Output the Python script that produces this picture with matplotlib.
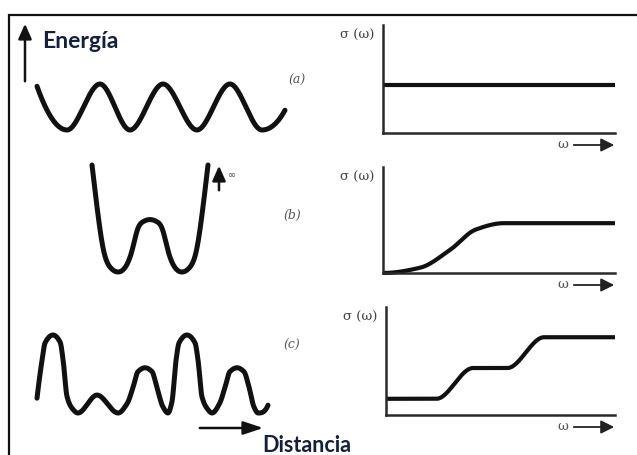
import numpy as np
import matplotlib
matplotlib.use("Agg")
import matplotlib.pyplot as plt
from matplotlib.patches import FancyArrowPatch

W, H = 637, 455

# ---- potential-energy profiles (arbitrary distance 0..1, energy 0..1) ----
# (a) periodic lattice
dist_a = [0.0, 0.121, 0.254, 0.375, 0.508, 0.645, 0.778, 0.907, 1.0]
energy_a = [0.95, 0.0, 1.0, 0.0, 1.0, 0.0, 1.0, 0.0, 0.43]
# (b) double well with infinite walls
dist_b = [0.0, 0.05, 0.10, 0.16, 0.224, 0.29, 0.35, 0.39, 0.44, 0.5,
          0.56, 0.61, 0.65, 0.71, 0.776, 0.84, 0.90, 0.95, 1.0]
energy_b = [1.0, 0.55, 0.20, 0.04, 0.0, 0.05, 0.22, 0.39, 0.47, 0.49,
            0.47, 0.39, 0.22, 0.05, 0.0, 0.04, 0.20, 0.55, 1.0]
# (c) disordered barriers
dist_c = [0.0, 0.022, 0.035, 0.069, 0.10, 0.113, 0.13, 0.152, 0.177,
          0.26, 0.351, 0.39, 0.416, 0.437, 0.468, 0.498, 0.519, 0.545, 0.567,
          0.584, 0.602, 0.615, 0.649, 0.684, 0.697, 0.714, 0.736, 0.758,
          0.79, 0.814, 0.835, 0.866, 0.896, 0.918, 0.939, 0.957, 1.0]
energy_c = [0.19, 0.68, 0.90, 1.0, 0.91, 0.68, 0.21, 0.06, 0.0,
            0.23, 0.0, 0.12, 0.33, 0.53, 0.58, 0.53, 0.33, 0.08, 0.0,
            0.14, 0.68, 0.90, 1.0, 0.90, 0.68, 0.21, 0.06, 0.0,
            0.12, 0.33, 0.53, 0.58, 0.53, 0.33, 0.08, 0.0, 0.10]

# ---- conductivity sigma(omega) (arbitrary units) ----
omega_a = [0.0, 1.0]
sigma_a = [0.44, 0.44]
omega_b = [0.0, 0.16, 0.29, 0.40, 0.52, 1.0]
sigma_b = [0.0, 0.05, 0.22, 0.41, 0.47, 0.47]
omega_c = [0.0, 0.22, 0.38, 0.53, 0.69, 1.0]
sigma_c = [0.15, 0.15, 0.435, 0.435, 0.72, 0.72]

panel_labels = ["(a)", "(b)", "(c)"]
ink = "#111111"
text_blue = "#14213d"


def pchip(x, y, xs):
    """Shape-preserving cubic Hermite curve through the given points."""
    x = np.asarray(x, float)
    y = np.asarray(y, float)
    h = np.diff(x)
    delta = np.diff(y) / h
    n = len(x)
    d = np.zeros(n)
    for k in range(1, n - 1):
        if delta[k - 1] * delta[k] > 0:
            w1 = 2 * h[k] + h[k - 1]
            w2 = h[k] + 2 * h[k - 1]
            d[k] = (w1 + w2) / (w1 / delta[k - 1] + w2 / delta[k])

    def end_slope(h0, h1, d0, d1):
        s = ((2 * h0 + h1) * d0 - h0 * d1) / (h0 + h1)
        if np.sign(s) != np.sign(d0):
            s = 0.0
        elif np.sign(d0) != np.sign(d1) and abs(s) > abs(3 * d0):
            s = 3 * d0
        return s

    if n > 2:
        d[0] = end_slope(h[0], h[1], delta[0], delta[1])
        d[-1] = end_slope(h[-1], h[-2], delta[-1], delta[-2])
    else:
        d[:] = delta[0]
    idx = np.clip(np.searchsorted(x, xs) - 1, 0, n - 2)
    t = (xs - x[idx]) / h[idx]
    h00 = 2 * t**3 - 3 * t**2 + 1
    h10 = t**3 - 2 * t**2 + t
    h01 = -2 * t**3 + 3 * t**2
    h11 = t**3 - t**2
    return (h00 * y[idx] + h10 * h[idx] * d[idx]
            + h01 * y[idx + 1] + h11 * h[idx] * d[idx + 1])


def natural_spline(x, y, xs):
    """Natural cubic spline through the given points."""
    x = np.asarray(x, float)
    y = np.asarray(y, float)
    n = len(x)
    h = np.diff(x)
    A = np.zeros((n, n))
    r = np.zeros(n)
    A[0, 0] = A[-1, -1] = 1.0
    for i in range(1, n - 1):
        A[i, i - 1] = h[i - 1]
        A[i, i] = 2 * (h[i - 1] + h[i])
        A[i, i + 1] = h[i]
        r[i] = 6 * ((y[i + 1] - y[i]) / h[i] - (y[i] - y[i - 1]) / h[i - 1])
    M = np.linalg.solve(A, r)
    idx = np.clip(np.searchsorted(x, xs) - 1, 0, n - 2)
    hi = h[idx]
    a = x[idx + 1] - xs
    b = xs - x[idx]
    return (M[idx] * a**3 / (6 * hi) + M[idx + 1] * b**3 / (6 * hi)
            + (y[idx] / hi - M[idx] * hi / 6) * a
            + (y[idx + 1] / hi - M[idx + 1] * hi / 6) * b)


def axes_px(fig, x0, y0, x1, y1):
    return fig.add_axes([x0 / W, 1 - y1 / H, (x1 - x0) / W, (y1 - y0) / H])


fig = plt.figure(figsize=(W / 100, H / 100), dpi=100)
fig.patch.set_facecolor("white")

# overlay in pixel units for the frame, labels and arrows
ov = fig.add_axes([0, 0, 1, 1])
ov.set_xlim(0, W)
ov.set_ylim(H, 0)
ov.axis("off")
ov.plot([9, 9, W + 5], [H + 5, 15, 15], color="#111111", lw=1.6,
        solid_joinstyle="miter", clip_on=False)

# potential-energy curves
pot_boxes = [(37, 84, 285, 130), (92, 165, 208, 272), (37, 335, 268, 413)]
pot_data = [(dist_a, energy_a, pchip), (dist_b, energy_b, natural_spline),
            (dist_c, energy_c, pchip)]
for (x0, y0, x1, y1), (dx, ey, smooth) in zip(pot_boxes, pot_data):
    ax = axes_px(fig, x0, y0, x1, y1)
    xs = np.linspace(dx[0], dx[-1], 1200)
    ax.plot(xs, smooth(dx, ey, xs), color=ink, lw=3.6,
            solid_capstyle="round", solid_joinstyle="round", clip_on=False)
    ax.set_xlim(0, 1)
    ax.set_ylim(0, 1)
    ax.axis("off")

# conductivity panels
sig_boxes = [(383, 25, 615, 133), (383, 167, 615, 273), (386, 307, 615, 415)]
sig_data = [(omega_a, sigma_a), (omega_b, sigma_b), (omega_c, sigma_c)]
for (x0, y0, x1, y1), (om, sg) in zip(sig_boxes, sig_data):
    ax = axes_px(fig, x0, y0, x1, y1)
    xs = np.linspace(om[0], om[-1], 600)
    ax.plot(xs, pchip(om, sg, xs), color=ink, lw=3.0,
            solid_capstyle="butt", clip_on=False)
    ax.set_xlim(0, 1)
    ax.set_ylim(0, 1)
    for side in ("top", "right"):
        ax.spines[side].set_visible(False)
    for side in ("left", "bottom"):
        ax.spines[side].set_linewidth(1.8)
        ax.spines[side].set_color("#2a2a2a")
    ax.set_xticks([])
    ax.set_yticks([])
    ax.patch.set_alpha(0)
    # axis captions
    ov.text(x0 - 26, y0 + 10, "σ (ω)", fontsize=9.5, family="DejaVu Serif",
            color="#444444", ha="center", va="center")
    ov.text(x1 - 52, y1 + 12, "ω", fontsize=9.5, family="DejaVu Serif",
            color="#555555", ha="center", va="center")
    ov.add_patch(FancyArrowPatch((x1 - 44, y1 + 12), (x1 + 2, y1 + 12),
                                 arrowstyle="-|>,head_length=8,head_width=4",
                                 color="#222222", lw=1.3, mutation_scale=1))

# panel letters
for lab, (lx, ly) in zip(panel_labels, [(297, 80), (292, 215), (292, 345)]):
    ov.text(lx, ly, lab, fontsize=9, family="DejaVu Serif", style="italic",
            color="#555555", ha="center", va="center")

# energy axis arrow and title
ov.add_patch(FancyArrowPatch((25, 84), (25, 21),
                             arrowstyle="-|>,head_length=9,head_width=4",
                             color="#111111", lw=1.8, mutation_scale=1))
ov.text(42, 42, "Energía", fontsize=16.5, family="Lato", weight="bold",
        color=text_blue, ha="left", va="center")

# distance arrow and title
ov.add_patch(FancyArrowPatch((197, 428), (266, 428),
                             arrowstyle="-|>,head_length=12,head_width=4",
                             color="#111111", lw=1.8, mutation_scale=1))
ov.text(262, 445, "Distancia", fontsize=15.5, family="Lato", weight="bold",
        color=text_blue, ha="left", va="center")

# infinite wall marker in (b)
ov.add_patch(FancyArrowPatch((219, 193), (219, 163),
                             arrowstyle="-|>,head_length=9,head_width=4",
                             color="#111111", lw=1.8, mutation_scale=1))
ov.text(228, 175, "∞", fontsize=7, color="#444444", ha="left", va="center")

fig.savefig("out.png", dpi=100, facecolor="white")
